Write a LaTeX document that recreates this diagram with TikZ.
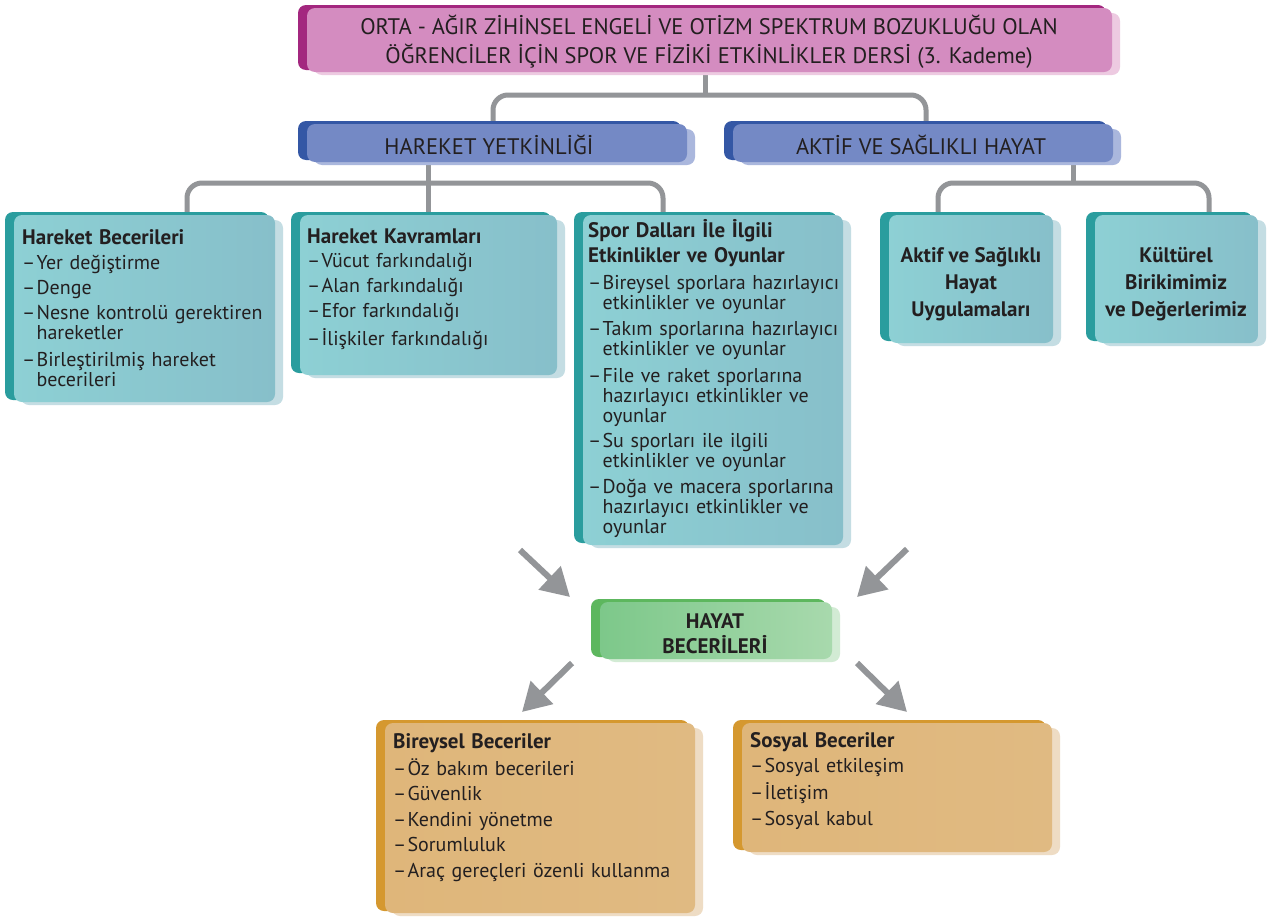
\documentclass[tikz,border=0pt]{standalone}
\usepackage{fontspec}
\setmainfont{PT Sans}
\usetikzlibrary{arrows.meta,backgrounds}

\definecolor{cTxt}{HTML}{231F20}
\definecolor{cConn}{HTML}{939598}
\definecolor{cPinkB}{HTML}{A3277F}
\definecolor{cPinkF}{HTML}{D48CC0}
\definecolor{cPinkS}{HTML}{EDCAE1}
\definecolor{cBlueB}{HTML}{3457A5}
\definecolor{cBlueF}{HTML}{7489C5}
\definecolor{cBlueS}{HTML}{AAB7DD}
\definecolor{cTealB}{HTML}{2A9D9E}
\definecolor{cTealL}{HTML}{8DD0D4}
\definecolor{cTealR}{HTML}{87BFCA}
\definecolor{cTealS}{HTML}{C4DDE3}
\definecolor{cGreenB}{HTML}{5DB75E}
\definecolor{cGreenL}{HTML}{7DC88A}
\definecolor{cGreenR}{HTML}{A8D9AD}
\definecolor{cGreenS}{HTML}{D2EBD4}
\definecolor{cOrB}{HTML}{D5982F}
\definecolor{cOrL}{HTML}{DFB67A}
\definecolor{cOrR}{HTML}{E0BA82}
\definecolor{cOrS}{HTML}{EEDCC4}

\tikzset{
  pinkback/.style={fill=cPinkB, rounded corners=8pt},
  pinkshadow/.style={fill=cPinkS, rounded corners=8pt},
  pinkfront/.style={fill=cPinkF, rounded corners=8pt, inner sep=0pt},
  blueback/.style={fill=cBlueB, rounded corners=8pt},
  blueshadow/.style={fill=cBlueS, rounded corners=8pt},
  bluefront/.style={fill=cBlueF, rounded corners=8pt, inner sep=0pt},
  tealback/.style={fill=cTealB, rounded corners=8pt},
  tealshadow/.style={fill=cTealS, rounded corners=8pt},
  tealfront/.style={left color=cTealL, right color=cTealR, rounded corners=8pt, inner sep=0pt},
  greenback/.style={fill=cGreenB, rounded corners=8pt},
  greenshadow/.style={fill=cGreenS, rounded corners=8pt},
  greenfront/.style={left color=cGreenL, right color=cGreenR, rounded corners=8pt, inner sep=0pt},
  orback/.style={fill=cOrB, rounded corners=8pt},
  orshadow/.style={fill=cOrS, rounded corners=8pt},
  orfront/.style={left color=cOrL, right color=cOrR, rounded corners=8pt, inner sep=0pt},
  conn/.style={draw=cConn, line width=5pt, rounded corners=15pt},
  bigarrow/.style={draw=cConn, fill=cConn, line width=6pt, -{Triangle[length=28pt,width=31pt]}},
  listtext/.style={anchor=base west, align=left, text width=330pt, inner sep=0pt, text=cTxt,
    font=\fontsize{20}{20}\selectfont},
  centertext/.style={align=center, inner sep=0pt, text=cTxt, font=\bfseries\fontsize{21}{27}\selectfont},
  headtext/.style={align=center, inner sep=0pt, text=cTxt, font=\fontsize{22.5}{29}\selectfont},
}

\newcommand\itm{\makebox[0.72em][l]{–}}
\newcommand\ind{\hspace*{0.72em}}
\newcommand\ttl[1]{{\bfseries\fontsize{21}{20}\selectfont #1}}
\newcommand\panel[6]{%
  \fill[#2shadow] ({#3+7},{#4+5}) rectangle ({#5+8},{#6+3});
  \fill[#2back] ({#3-9},{#4-3}) rectangle ({#5-6},{#6-2});
  \node[#2front, minimum width={(#5-#3)*1pt}, minimum height={(#6-#4)*1pt}] (#1) at ({(#3+#5)/2},{(#4+#6)/2}) {};
}

\begin{document}
\begin{tikzpicture}[x=1pt,y=-1pt]
\useasboundingbox (0,0) rectangle (1273,918);

% panels
\panel{top}{pink}{307}{8}{1112}{72}
\panel{hy}{blue}{307}{124}{687}{162}
\panel{ak}{blue}{733}{124}{1113}{162}
\panel{hb}{teal}{14}{215}{275}{402}
\panel{hk}{teal}{300}{215}{557}{375}
\panel{sd}{teal}{583}{215}{843}{545}
\panel{as}{teal}{889}{215}{1053}{343}
\panel{kb}{teal}{1095}{215}{1258}{343}
\panel{hs}{green}{600}{602}{832}{659}
\panel{bb}{or}{385}{723}{695}{913}
\panel{sb}{or}{742}{723}{1052}{852}

% texts
\node[headtext] (topt) at (709,42) {ORTA - AĞIR ZİHİNSEL ENGELİ VE OTİZM SPEKTRUM BOZUKLUĞU OLAN\\ÖĞRENCİLER İÇİN SPOR VE FİZİKİ ETKİNLİKLER DERSİ (3. Kademe)};
\node[headtext] (hyt) at (489,145) {HAREKET YETKİNLİĞİ};
\node[headtext] (akt) at (921,145) {AKTİF VE SAĞLIKLI HAYAT};

\node[listtext] (hbt) at (22,244) {\ttl{Hareket Becerileri}\\[5pt]
\itm Yer değiştirme\\[5pt]
\itm Denge\\[5pt]
\itm Nesne kontrolü gerektiren\\
\ind hareketler\\[7pt]
\itm Birleştirilmiş hareket\\
\ind becerileri};

\node[listtext] (hkt) at (307,243) {\ttl{Hareket Kavramları}\\[4pt]
\itm Vücut farkındalığı\\[5pt]
\itm Alan farkındalığı\\[5pt]
\itm Efor farkındalığı\\[6pt]
\itm İlişkiler farkındalığı};

\node[listtext] (sdt) at (588,237) {\ttl{Spor Dalları İle İlgili}\\[5pt]
\ttl{Etkinlikler ve Oyunlar}\\[7pt]
\itm Bireysel sporlara hazırlayıcı\\
\ind etkinlikler ve oyunlar\\[6pt]
\itm Takım sporlarına hazırlayıcı\\
\ind etkinlikler ve oyunlar\\[7pt]
\itm File ve raket sporlarına\\
\ind hazırlayıcı etkinlikler ve\\
\ind oyunlar\\[5pt]
\itm Su sporları ile ilgili\\
\ind etkinlikler ve oyunlar\\[6pt]
\itm Doğa ve macera sporlarına\\
\ind hazırlayıcı etkinlikler ve\\
\ind oyunlar};

\node[centertext] (ast) at (971,284) {Aktif ve Sağlıklı\\Hayat\\Uygulamaları};
\node[centertext] (kbt) at (1176,284) {Kültürel\\Birikimimiz\\ve Değerlerimiz};
\node[centertext, font=\bfseries\fontsize{21}{25}\selectfont] (hst) at (715,634) {HAYAT\\BECERİLERİ};

\node[listtext] (bbt) at (393,748) {\ttl{Bireysel Beceriler}\\[5pt]
\itm Öz bakım becerileri\\[5pt]
\itm Güvenlik\\[6pt]
\itm Kendini yönetme\\[5pt]
\itm Sorumluluk\\[6pt]
\itm Araç gereçleri özenli kullanma};

\node[listtext] (sbt) at (750,747) {\ttl{Sosyal Beceriler}\\[5pt]
\itm Sosyal etkileşim\\[5pt]
\itm İletişim\\[6pt]
\itm Sosyal kabul};

% connectors
\coordinate (tj) at (705,95);
\coordinate (xa) at (493,0);
\coordinate (xb) at (926,0);
\coordinate (hj) at (428,183);
\coordinate (xc) at (187,0);
\coordinate (xd) at (663,0);
\coordinate (aj) at (1073,183);
\coordinate (xe) at (938,0);
\coordinate (xf) at (1209,0);
\begin{pgfonlayer}{background}
\fill[white] (0,0) rectangle (1273,918);
\draw[conn] (top.south -| tj) -- (tj);
\draw[conn] (hy.north -| xa) |- (tj) -| (ak.north -| xb);
\draw[conn] (hy.south -| hj) -- (hk.north -| hj);
\draw[conn] (hb.north -| xc) |- (hj) -| (sd.north -| xd);
\draw[conn] (ak.south -| aj) -- (aj);
\draw[conn] (as.north -| xe) |- (aj) -| (kb.north -| xf);
\end{pgfonlayer}

% arrows
\coordinate (a1s) at (520,550); \coordinate (a1e) at (570,597);
\coordinate (a2s) at (907,549); \coordinate (a2e) at (857,597);
\coordinate (a3s) at (572,663); \coordinate (a3e) at (522,712);
\coordinate (a4s) at (857,663); \coordinate (a4e) at (907,712);
\draw[bigarrow] (a1s) -- (a1e);
\draw[bigarrow] (a2s) -- (a2e);
\draw[bigarrow] (a3s) -- (a3e);
\draw[bigarrow] (a4s) -- (a4e);
\end{tikzpicture}
\end{document}
